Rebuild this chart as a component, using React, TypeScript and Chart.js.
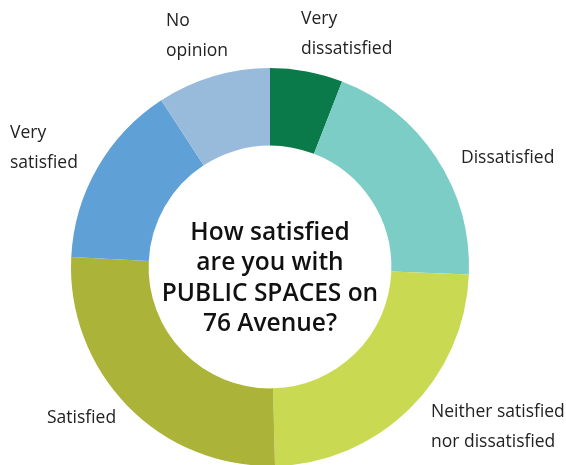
import React, { useEffect, useRef } from "react";
import { Chart, registerables } from "chart.js";

Chart.register(...registerables);

const categories = [
  "Very dissatisfied",
  "Dissatisfied",
  "Neither satisfied nor dissatisfied",
  "Satisfied",
  "Very satisfied",
  "No opinion",
];
const values = [5.9, 19.7, 24, 26.2, 15, 9.2];
const colors = ["#0b7a4b", "#7ccdc6", "#c9da52", "#acb339", "#5fa1d7", "#98bbdc"];
const labelLines = [
  ["Very", "dissatisfied"],
  ["Dissatisfied"],
  ["Neither satisfied", "nor dissatisfied"],
  ["Satisfied"],
  ["Very", "satisfied"],
  ["No", "opinion"],
];
const centerLines = ["How satisfied", "are you with", "PUBLIC SPACES on", "76 Avenue?"];

// label anchor positions (left x, first line middle y)
const labelPos = [
  [301, 19],
  [461, 158],
  [431, 412],
  [47, 418],
  [10, 133],
  [166, 21],
];

const textPlugin = {
  id: "texts",
  afterDraw(chart: any) {
    const ctx = chart.ctx;
    ctx.save();
    ctx.fillStyle = "#222222";
    ctx.textBaseline = "middle";
    ctx.textAlign = "left";
    ctx.font = "17.5px 'Open Sans'";
    labelLines.forEach((lines, i) => {
      const [x, y] = labelPos[i];
      lines.forEach((l, j) => ctx.fillText(l, x, y + j * 30.5));
    });
    const arc = chart.getDatasetMeta(0).data[0];
    const cx = arc.x;
    const cy = arc.y;
    ctx.textAlign = "center";
    ctx.fillStyle = "#111111";
    ctx.font = "600 24.5px 'Open Sans'";
    const lh = 30.5;
    centerLines.forEach((l, j) => {
      ctx.fillText(l, cx, cy - 34 + j * lh);
    });
    ctx.restore();
  },
};

export default function App() {
  const ref = useRef<HTMLCanvasElement>(null);
  useEffect(() => {
    document.body.style.margin = "0";
    document.body.style.overflow = "hidden";
    const chart = new Chart(ref.current!, {
      type: "doughnut",
      data: {
        labels: categories,
        datasets: [
          {
            data: values,
            backgroundColor: colors,
            borderWidth: 0,
          },
        ],
      },
      options: {
        animation: false,
        responsive: false,
        cutout: "61%",
        layout: { padding: { top: 68, bottom: 4, left: 71, right: 97 } },
        plugins: {
          legend: { display: false },
          tooltip: { enabled: false },
        },
      },
      plugins: [textPlugin],
    });
    return () => chart.destroy();
  }, []);
  return (
    <div style={{ position: "absolute", left: 0, top: 0, width: 566, height: 470 }}>
      <canvas ref={ref} width={566} height={470} style={{ width: 566, height: 470 }} />
    </div>
  );
}
